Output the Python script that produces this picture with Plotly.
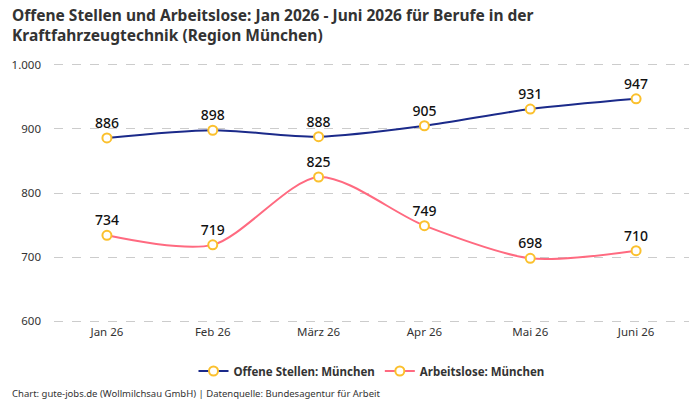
import plotly.graph_objects as go

months = ["Jan 26", "Feb 26", "März 26", "Apr 26", "Mai 26", "Juni 26"]
offene = [886, 898, 888, 905, 931, 947]
arbeitslose = [734, 719, 825, 749, 698, 710]
tickvals = [600, 700, 800, 900, 1000]
ticktext = ["600", "700", "800", "900", "1.000"]

FONT = "Noto Sans"
fig = go.Figure()
for name, vals, color in [("Offene Stellen: München", offene, "#1b2a8a"),
                          ("Arbeitslose: München", arbeitslose, "#ff6a80")]:
    fig.add_trace(go.Scatter(
        x=months, y=vals, name=name, mode="lines+markers+text",
        line=dict(color=color, width=2, shape="spline", smoothing=0.8),
        marker=dict(size=9, color="white", line=dict(color="#fbc02d", width=2)),
        text=[str(v) for v in vals], textposition="top center",
        textfont=dict(family=FONT, size=14, color="#111", weight=500),
        cliponaxis=False,
    ))

TOP, BOT = 63, 323
PH = float(BOT - TOP)
PW = 635.0
fig.update_layout(
    width=700, height=400,
    margin=dict(l=54, r=11, t=TOP, b=400 - BOT, autoexpand=False),
    paper_bgcolor="white", plot_bgcolor="white",
    font=dict(family=FONT, color="#333"),
    xaxis=dict(range=[-0.5, 5.5], showgrid=False, zeroline=False, showline=False,
               ticks="", tickfont=dict(size=11.5, color="#333")),
    yaxis=dict(range=[597, 1003], tickvals=tickvals, ticktext=ticktext,
               showgrid=True, gridcolor="#cccccc", griddash="dash", gridwidth=1,
               zeroline=False, showline=False, ticks="", ticklabelstandoff=12,
               tickfont=dict(size=11.5, color="#333")),
    legend=dict(orientation="h", x=0.5, xanchor="center", y=-(371 - BOT) / PH, yanchor="middle",
                font=dict(family=FONT, size=11.5, color="#333", weight="bold"),
                itemwidth=30, tracegroupgap=0),
    annotations=[
        dict(text="<b>Offene Stellen und Arbeitslose: Jan 2026 - Juni 2026 für Berufe in der<br>Kraftfahrzeugtechnik (Region München)</b>",
             xref="paper", yref="paper", x=-44 / PW, y=1 + (TOP - 2) / PH, xanchor="left", yanchor="top",
             align="left", showarrow=False,
             font=dict(family=FONT, size=15.5, color="#333")),
        dict(text="Chart: gute-jobs.de (Wollmilchsau GmbH) | Datenquelle: Bundesagentur für Arbeit",
             xref="paper", yref="paper", x=-44 / PW, y=-(393 - BOT) / PH, xanchor="left", yanchor="middle",
             showarrow=False, font=dict(family=FONT, size=9.5, color="#333")),
    ],
)
fig.write_html("out.html")
